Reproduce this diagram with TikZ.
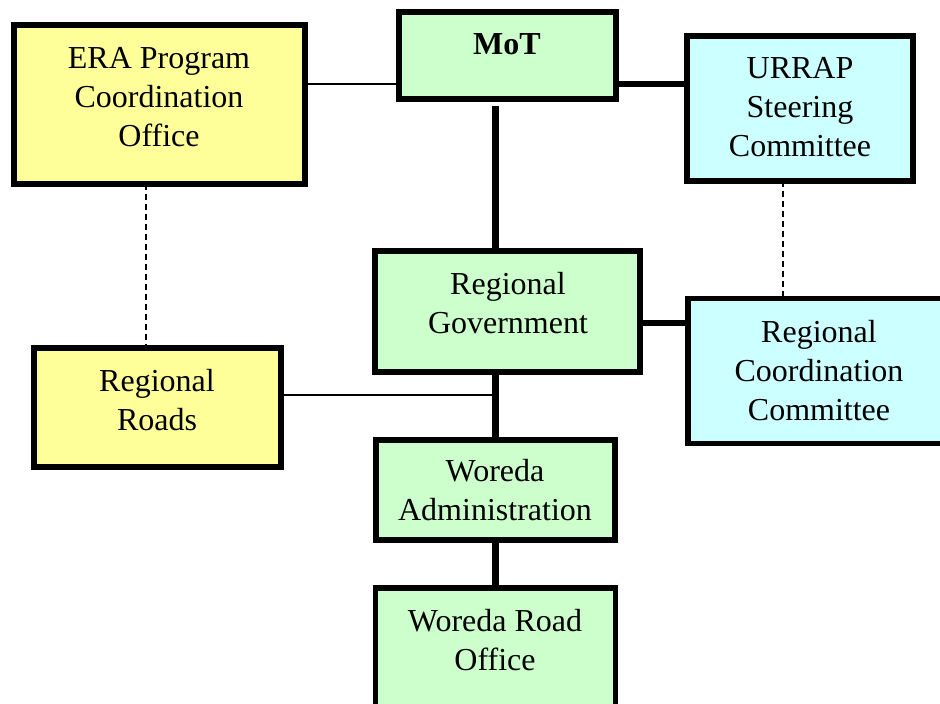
\documentclass[tikz,border=0pt]{standalone}
\usepackage{fontspec}
\setmainfont{Liberation Serif}
\definecolor{boxyellow}{HTML}{FFFF99}
\definecolor{boxgreen}{HTML}{CCFFCC}
\definecolor{boxcyan}{HTML}{CCFFFF}
\tikzset{
  orgbox/.style={draw=black, line width=5.5pt, rectangle, inner sep=0pt, outer sep=0pt},
  boxtext/.style={inner sep=0pt, align=center, font=\fontsize{32}{39}\selectfont},
  thickline/.style={line width=6.5pt},
  thinline/.style={line width=2pt},
  dashline/.style={line width=1.5pt, dash pattern=on 6pt off 4pt}
}
\begin{document}
\begin{tikzpicture}[x=1pt,y=-1pt]
\useasboundingbox (0,0) rectangle (940,704);
% boxes
\node[orgbox, fill=boxyellow, minimum width=291pt, minimum height=159pt] (era) at (159.5,104.5) {};
\node[orgbox, fill=boxgreen, minimum width=217pt, minimum height=87pt] (mot) at (507.5,55.5) {};
\node[orgbox, fill=boxcyan, minimum width=226pt, minimum height=145pt] (ur) at (800,108.5) {};
\node[orgbox, fill=boxgreen, minimum width=265pt, minimum height=121pt] (rg) at (507.5,311.5) {};
\node[orgbox, fill=boxcyan, minimum width=256pt, minimum height=145pt] (rcc) at (816,371) {};
\node[orgbox, fill=boxyellow, minimum width=247pt, minimum height=119pt] (rr) at (157.5,407.5) {};
\node[orgbox, fill=boxgreen, minimum width=239pt, minimum height=100pt] (wa) at (495.5,490) {};
\node[orgbox, fill=boxgreen, minimum width=240pt, minimum height=140pt] (wro) at (495.5,658) {};
% texts
\node[boxtext] (era-t) at (159,97) {ERA Program\\Coordination\\Office};
\node[boxtext, font=\fontsize{32}{39}\selectfont\bfseries] (mot-t) at (507,44) {MoT};
\node[boxtext] (ur-t) at (800,107) {URRAP\\Steering\\Committee};
\node[boxtext] (rg-t) at (508,303.5) {Regional\\Government};
\node[boxtext] (rcc-t) at (819,371) {Regional\\Coordination\\Committee};
\node[boxtext] (rr-t) at (157,400) {Regional\\Roads};
\node[boxtext] (wa-t) at (495,490.5) {Woreda\\Administration};
\node[boxtext] (wro-t) at (495,640) {Woreda Road\\Office};
% helper coordinates
\coordinate (ytop) at (0,84);
\coordinate (yrg) at (0,323);
\coordinate (yrr) at (0,395);
\coordinate (xera) at (146,0);
\coordinate (xur) at (783,0);
% connectors
\draw[thinline] (era.east |- ytop) -- (mot.west |- ytop);
\draw[thickline] (mot.east |- ytop) -- (ur.west |- ytop);
\draw[thickline] ([yshift=-7pt]wa.north |- mot.south) -- (wa.north |- rg.north);
\draw[thickline] (rg.east |- yrg) -- (rcc.west |- yrg);
\draw[thickline] (wa.north |- rg.south) -- (wa.north);
\draw[thickline] (wa.south) -- (wro.north);
\draw[thinline] (rr.east |- yrr) -- (wa.north |- yrr);
\draw[dashline] (era.south -| xera) -- (rr.north -| xera);
\draw[dashline] (ur.south -| xur) -- (rcc.north -| xur);
\end{tikzpicture}
\end{document}
